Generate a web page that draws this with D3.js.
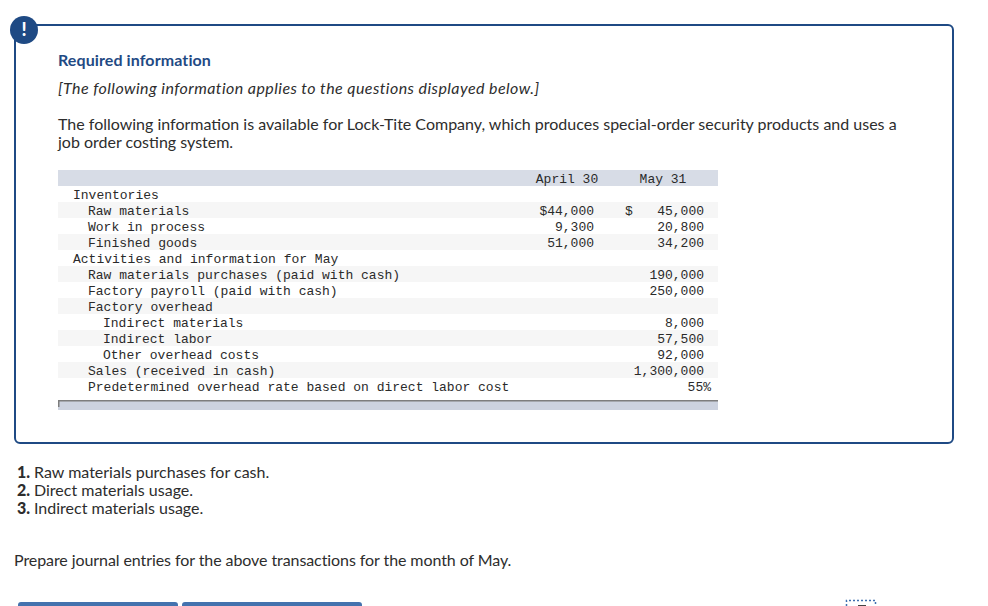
<!DOCTYPE html>
<html>
<head>
<meta charset="utf-8">
<script src="https://cdnjs.cloudflare.com/ajax/libs/d3/7.8.5/d3.min.js"></script>
<style>
  html, body { margin: 0; padding: 0; background: #fff; overflow: hidden; }
  svg { display: block; }
  .sans { font-family: Lato, sans-serif; font-size: 16px; fill: #2d2d2d; }
  .mono { font-family: "Liberation Mono", monospace; font-size: 13px; fill: #2a2a2a; }
</style>
</head>
<body>
<div id="chart"></div>
<script>
// table contents
const rowLabels = [
  'Inventories', 'Raw materials', 'Work in process', 'Finished goods',
  'Activities and information for May', 'Raw materials purchases (paid with cash)',
  'Factory payroll (paid with cash)', 'Factory overhead', 'Indirect materials',
  'Indirect labor', 'Other overhead costs', 'Sales (received in cash)',
  'Predetermined overhead rate based on direct labor cost',
];
const rowIndents = [1, 2, 2, 2, 1, 2, 2, 2, 3, 3, 3, 2, 2];
const aprilValues = [null, 44000, 9300, 51000, null, null, null, null, null, null, null, null, null];
const mayValues = [null, 45000, 20800, 34200, null, 190000, 250000, null, 8000, 57500, 92000, 1300000, null];
const overheadRate = 55;
const columnLabels = ['April 30', 'May 31'];

const requirements = ['Raw materials purchases for cash.', 'Direct materials usage.', 'Indirect materials usage.'];

const width = 988;
const height = 606;
const blue = '#1f4a84';

const svg = d3.select('#chart').append('svg')
  .attr('width', width)
  .attr('height', height);

// panel
svg.append('rect')
  .attr('x', 15).attr('y', 25)
  .attr('width', 938).attr('height', 418)
  .attr('rx', 5)
  .attr('fill', '#fff')
  .attr('stroke', blue)
  .attr('stroke-width', 2);

svg.append('circle')
  .attr('cx', 24).attr('cy', 30).attr('r', 14)
  .attr('fill', blue);

svg.append('text')
  .attr('x', 24).attr('y', 36)
  .attr('text-anchor', 'middle')
  .attr('font-family', 'Lato, sans-serif')
  .attr('font-weight', 900)
  .attr('font-size', 18)
  .attr('fill', '#fff')
  .text('!');

svg.append('text').attr('class', 'sans')
  .attr('x', 58).attr('y', 66)
  .attr('font-weight', 700)
  .attr('letter-spacing', 0.1)
  .style('fill', blue)
  .text('Required information');

svg.append('text').attr('class', 'sans')
  .attr('x', 58).attr('y', 94)
  .attr('font-style', 'italic')
  .attr('letter-spacing', 0.43)
  .text('[The following information applies to the questions displayed below.]');

svg.append('text').attr('class', 'sans')
  .attr('x', 58).attr('y', 130)
  .text('The following information is available for Lock-Tite Company, which produces special-order security products and uses a');

svg.append('text').attr('class', 'sans')
  .attr('x', 58).attr('y', 148)
  .text('job order costing system.');

// table
const y = d3.scaleBand()
  .domain(d3.range(rowLabels.length))
  .range([186, 394]);

const tableLeft = 58;
const tableRight = 718;
const textDrop = 12.5;
const indentX = d3.scaleLinear().domain([1, 3]).range([73, 103]);
const aprilRight = 594;
const mayRight = 704;
const fmt = d3.format(',');

svg.append('rect')
  .attr('x', tableLeft).attr('y', 170)
  .attr('width', tableRight - tableLeft).attr('height', 16)
  .attr('fill', '#d7dce6');

svg.selectAll('.band')
  .data(d3.range(1, rowLabels.length, 2))
  .join('rect')
  .attr('class', 'band')
  .attr('x', tableLeft)
  .attr('y', (d) => y(d))
  .attr('width', tableRight - tableLeft)
  .attr('height', y.bandwidth())
  .attr('fill', '#f6f6f6');

svg.selectAll('.header')
  .data(columnLabels)
  .join('text')
  .attr('class', 'mono header')
  .attr('x', (d, i) => (i === 0 ? 567 : 663))
  .attr('y', 182.5)
  .attr('text-anchor', 'middle')
  .text((d) => d);

svg.selectAll('.label')
  .data(rowLabels)
  .join('text')
  .attr('class', 'mono label')
  .attr('x', (d, i) => indentX(rowIndents[i]))
  .attr('y', (d, i) => y(i) + textDrop)
  .text((d) => d);

svg.selectAll('.april')
  .data(aprilValues)
  .join('text')
  .attr('class', 'mono april')
  .attr('x', aprilRight)
  .attr('y', (d, i) => y(i) + textDrop)
  .attr('text-anchor', 'end')
  .text((d, i) => (d === null ? '' : (i === 1 ? '$' : '') + fmt(d)));

svg.selectAll('.may')
  .data(mayValues)
  .join('text')
  .attr('class', 'mono may')
  .attr('x', mayRight)
  .attr('y', (d, i) => y(i) + textDrop)
  .attr('text-anchor', 'end')
  .text((d) => (d === null ? '' : fmt(d)));

svg.append('text').attr('class', 'mono')
  .attr('x', 625).attr('y', y(1) + textDrop)
  .text('$');

svg.append('text').attr('class', 'mono')
  .attr('x', 711).attr('y', y(12) + textDrop)
  .attr('text-anchor', 'end')
  .text(`${overheadRate}%`);

// footer bar
svg.append('rect')
  .attr('x', tableLeft).attr('y', 400)
  .attr('width', tableRight - tableLeft).attr('height', 10)
  .attr('fill', '#ccd2df');
svg.append('rect')
  .attr('x', tableLeft).attr('y', 400)
  .attr('width', tableRight - tableLeft).attr('height', 1.5)
  .attr('fill', '#7d7d7d');
svg.append('rect')
  .attr('x', tableLeft).attr('y', 400)
  .attr('width', 1.5).attr('height', 7)
  .attr('fill', '#7d7d7d');

// numbered list
svg.selectAll('.req')
  .data(requirements)
  .join('text')
  .attr('class', 'sans req')
  .attr('x', 34)
  .attr('y', (d, i) => 478 + i * 18)
  .text((d) => d);

svg.selectAll('.num')
  .data(requirements)
  .join('text')
  .attr('class', 'sans num')
  .attr('x', 30)
  .attr('y', (d, i) => 478 + i * 18)
  .attr('text-anchor', 'end')
  .attr('font-weight', 900)
  .text((d, i) => `${i + 1}.`);

svg.append('text').attr('class', 'sans')
  .attr('x', 14).attr('y', 566)
  .attr('letter-spacing', -0.08)
  .text('Prepare journal entries for the above transactions for the month of May.');

// clipped buttons at the bottom edge
svg.selectAll('.tab')
  .data([[18, 160], [182, 180]])
  .join('rect')
  .attr('class', 'tab')
  .attr('x', (d) => d[0])
  .attr('y', 602)
  .attr('width', (d) => d[1])
  .attr('height', 12)
  .attr('rx', 3)
  .attr('fill', '#4472ae');

// dotted focus outline, bottom right
svg.append('path')
  .attr('d', 'M846.5,606V600.5H875.5V606')
  .attr('fill', 'none')
  .attr('stroke', '#3f6fb0')
  .attr('stroke-width', 1.5)
  .attr('stroke-dasharray', '2 2');

svg.append('rect')
  .attr('x', 858).attr('y', 605)
  .attr('width', 8).attr('height', 1)
  .attr('fill', '#444');
</script>
</body>
</html>
